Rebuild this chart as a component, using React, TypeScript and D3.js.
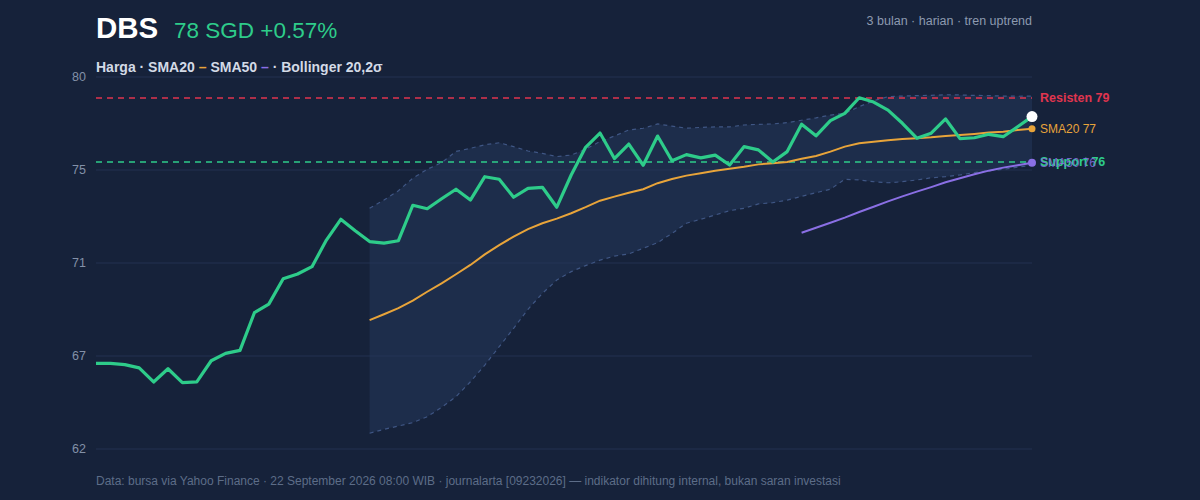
import React from "react";
import * as d3 from "d3";

// harga penutupan harian (66 hari bursa)
const price = [
  66.36, 66.36, 66.3, 66.15, 65.5, 66.11, 65.47, 65.5, 66.48, 66.82, 66.96, 68.7, 69.1, 70.27, 70.49, 70.83,
  72.06, 73.02, 72.49, 71.99, 71.92, 72.03, 73.67, 73.51, 73.97, 74.41, 73.91, 74.99, 74.87, 74.04, 74.45, 74.5,
  73.58, 75.07, 76.35, 77.01, 75.83, 76.5, 75.52, 76.87, 75.73, 76.01, 75.86, 75.99, 75.53, 76.38, 76.23, 75.67,
  76.15, 77.42, 76.88, 77.58, 77.92, 78.64, 78.44, 78.07, 77.46, 76.77, 77.0, 77.66, 76.75, 76.79, 76.95, 76.84,
  77.3, 77.77,
];

// mulai dari hari ke-20 (indeks 19)
const sma20 = [
  68.36, 68.63, 68.91, 69.26, 69.67, 70.06, 70.48, 70.91, 71.4, 71.83, 72.22, 72.57, 72.84, 73.05, 73.3, 73.58,
  73.88, 74.07, 74.25, 74.41, 74.69, 74.88, 75.04, 75.15, 75.27, 75.36, 75.45, 75.56, 75.61, 75.67, 75.82, 75.95,
  76.15, 76.38, 76.54, 76.61, 76.67, 76.73, 76.77, 76.81, 76.87, 76.92, 76.97, 77.03, 77.07, 77.15, 77.21,
];
const bbUpper = [
  73.53, 73.91, 74.34, 74.92, 75.33, 75.64, 76.16, 76.3, 76.47, 76.56, 76.38, 76.18, 76.07, 75.92, 75.99, 76.26,
  76.62, 76.87, 77.15, 77.23, 77.43, 77.33, 77.23, 77.27, 77.29, 77.29, 77.38, 77.41, 77.43, 77.49, 77.6, 77.71,
  77.84, 77.92, 78.23, 78.5, 78.69, 78.72, 78.74, 78.75, 78.78, 78.77, 78.75, 78.74, 78.72, 78.71, 78.72,
];
const bbLower = [
  63.13, 63.31, 63.46, 63.62, 63.89, 64.33, 64.82, 65.51, 66.28, 67.13, 67.98, 68.86, 69.6, 70.21, 70.6, 70.88,
  71.13, 71.32, 71.42, 71.68, 71.94, 72.37, 72.84, 73.02, 73.22, 73.42, 73.53, 73.73, 73.79, 73.91, 74.08, 74.25,
  74.41, 74.87, 74.84, 74.76, 74.71, 74.76, 74.84, 74.94, 74.99, 75.07, 75.18, 75.27, 75.33, 75.43, 75.52,
];
// mulai dari hari ke-50 (indeks 49)
const sma50 = [
  72.4, 72.63, 72.86, 73.1, 73.36, 73.6, 73.85, 74.08, 74.3, 74.51, 74.73, 74.92, 75.1, 75.27, 75.41, 75.52, 75.64,
];

const resistance = 78.63;
const support = 75.67;
const yTicks = [62.4, 66.7, 71.0, 75.3, 79.6];

const ticker = "DBS";
const quote = "78 SGD +0.57%";
const subtitle = "3 bulan · harian · tren uptrend";
const footer =
  "Data: bursa via Yahoo Finance · 22 September 2026 08:00 WIB · journalarta [09232026] — indikator dihitung internal, bukan saran investasi";

const W = 1200;
const H = 500;
const margin = { top: 77, right: 168, bottom: 51, left: 96 };

const BG = "#16223a";
const GREEN = "#2ecc8a";
const ORANGE = "#e8a43a";
const PURPLE = "#8a6fe4";
const RED = "#e0354f";
const FONT = "'Liberation Sans', Arial, Helvetica, sans-serif";

export default function App() {
  const x = d3.scaleLinear().domain([0, price.length - 1]).range([margin.left, W - margin.right]);
  const y = d3.scaleLinear().domain([yTicks[0], yTicks[yTicks.length - 1]]).range([H - margin.bottom, margin.top]);
  const fmt = d3.format(".0f");

  const bbStart = 19;
  const s50Start = 49;
  const bands = bbUpper.map((u, i) => ({ i: i + bbStart, u, l: bbLower[i] }));

  const area = d3
    .area<{ i: number; u: number; l: number }>()
    .x((d) => x(d.i))
    .y0((d) => y(d.l))
    .y1((d) => y(d.u));
  const line = d3
    .line<number>()
    .x((_, i) => x(i))
    .y((d) => y(d));
  const lineFrom = (start: number) =>
    d3
      .line<number>()
      .x((_, i) => x(i + start))
      .y((d) => y(d));

  const x0 = x(0);
  const x1 = x(price.length - 1);
  const last = price.length - 1;

  return (
    <svg
      width={W}
      height={H}
      style={{ position: "fixed", left: 0, top: 0, fontFamily: FONT }}
      xmlns="http://www.w3.org/2000/svg"
    >
      <rect width={W} height={H} fill={BG} />

      {/* header */}
      <text x={96} y={38} fill="#ffffff" fontSize={29.5} fontWeight="bold">
        {ticker}
      </text>
      <text x={174} y={38} fill={GREEN} fontSize={22.5}>
        {quote}
      </text>
      <text x={1032} y={25} fill="#8d9ab0" fontSize={12.5} textAnchor="end">
        {subtitle}
      </text>
      <text x={96} y={72} fill="#d3dae6" fontSize={14} fontWeight="bold">
        Harga · SMA20 <tspan fill={ORANGE}>–</tspan> SMA50 <tspan fill={PURPLE}>–</tspan> · Bollinger 20,2σ
      </text>

      {/* grid + y axis */}
      {yTicks.map((t) => (
        <g key={t}>
          <line x1={x0} x2={x1} y1={y(t)} y2={y(t)} stroke="#223150" strokeWidth={1} />
          <text x={86} y={y(t)} dy="0.35em" textAnchor="end" fill="#8391a8" fontSize={12.5}>
            {fmt(t)}
          </text>
        </g>
      ))}

      {/* bollinger */}
      <path d={area(bands) || ""} fill="#24365a" fillOpacity={0.55} />
      <path
        d={lineFrom(bbStart)(bbUpper) || ""}
        fill="none"
        stroke="#3f5684"
        strokeWidth={1.2}
        strokeDasharray="4,4"
      />
      <path
        d={lineFrom(bbStart)(bbLower) || ""}
        fill="none"
        stroke="#3f5684"
        strokeWidth={1.2}
        strokeDasharray="4,4"
      />

      {/* resistance / support */}
      <line x1={x0} x2={x1} y1={y(resistance)} y2={y(resistance)} stroke={RED} strokeWidth={1.3} strokeDasharray="6,5" />
      <line x1={x0} x2={x1} y1={y(support)} y2={y(support)} stroke={GREEN} strokeWidth={1.3} strokeDasharray="6,5" />

      {/* moving averages */}
      <path d={lineFrom(bbStart)(sma20) || ""} fill="none" stroke={ORANGE} strokeWidth={2} />
      <path d={lineFrom(s50Start)(sma50) || ""} fill="none" stroke={PURPLE} strokeWidth={2} />

      {/* price */}
      <path d={line(price) || ""} fill="none" stroke={GREEN} strokeWidth={3.2} strokeLinejoin="round" />

      {/* end markers */}
      <circle cx={x1} cy={y(sma20[sma20.length - 1])} r={3.5} fill={ORANGE} />
      <circle cx={x1} cy={y(sma50[sma50.length - 1])} r={4} fill={PURPLE} />
      <circle cx={x1} cy={y(price[last])} r={5.5} fill="#ffffff" />

      {/* right labels (overlap as in the source) */}
      <text x={1040} y={y(resistance)} dy="0.35em" fill={RED} fontSize={12.5} fontWeight="bold">
        Resisten {fmt(resistance)}
      </text>
      <text x={1040} y={y(sma20[sma20.length - 1])} dy="0.35em" fill={ORANGE} fontSize={12}>
        SMA20 {fmt(sma20[sma20.length - 1])}
      </text>
      <text x={1040} y={y(support)} dy="0.35em" fill={GREEN} fontSize={12.5} fontWeight="bold">
        Support {fmt(support)}
      </text>
      <text x={1040} y={y(sma50[sma50.length - 1])} dy="0.35em" fill={PURPLE} fontSize={12} fillOpacity={0.85}>
        SMA50 {fmt(sma50[sma50.length - 1])}
      </text>

      {/* footer */}
      <text x={96} y={485} fill="#5d6d88" fontSize={12}>
        {footer}
      </text>
    </svg>
  );
}
